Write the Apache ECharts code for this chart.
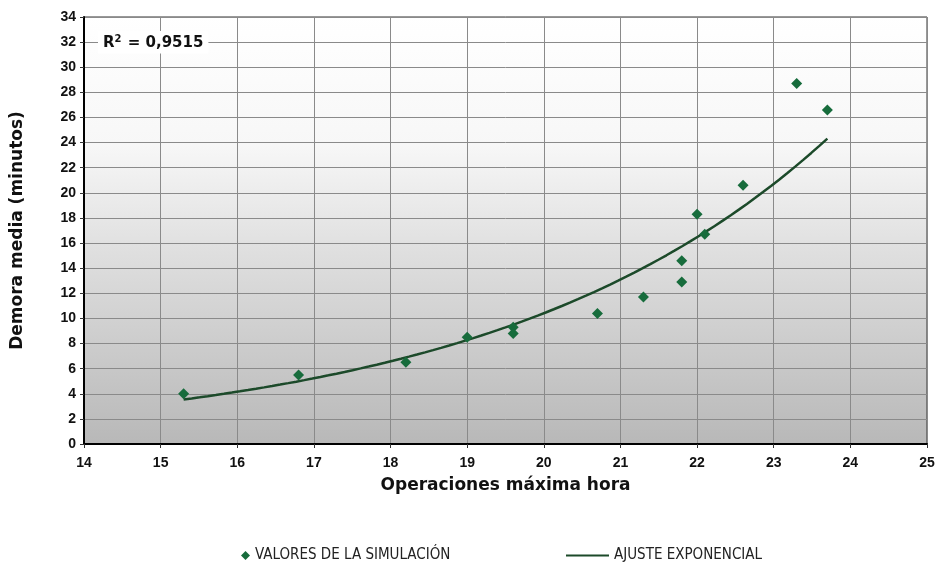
<!DOCTYPE html>
<html>
<head>
<meta charset="utf-8">
<script src="https://cdn.jsdelivr.net/npm/echarts@6/dist/echarts.min.js"></script>
<style>
  html, body { margin: 0; padding: 0; background: #fff; }
  #chart { width: 942px; height: 567px; }
</style>
</head>
<body>
<div id="chart"></div>
<script>
// Simulated mean delay vs. peak-hour operations
const operaciones = [15.3, 16.8, 18.2, 19.0, 19.6, 19.6, 20.7, 21.3, 21.8, 21.8, 22.0, 22.1, 22.6, 23.3, 23.7];
const demora      = [4.0, 5.5, 6.5, 8.5, 9.3, 8.8, 10.4, 11.7, 12.9, 14.6, 18.3, 16.7, 20.6, 28.7, 26.6];
const seriesNames = ['VALORES DE LA SIMULACIÓN', 'AJUSTE EXPONENCIAL'];
const r2Label = '0,9515';

// Exponential trendline y = a·e^(b·x), least squares on ln(y)
function expFit(xs, ys) {
  const n = xs.length;
  const ly = ys.map(v => Math.log(v));
  const mx = xs.reduce((s, v) => s + v, 0) / n;
  const my = ly.reduce((s, v) => s + v, 0) / n;
  let sxy = 0, sxx = 0;
  for (let i = 0; i < n; i++) { sxy += (xs[i] - mx) * (ly[i] - my); sxx += (xs[i] - mx) ** 2; }
  const b = sxy / sxx;
  const lnA = my - b * mx;
  return x => Math.exp(lnA + b * x);
}
const fit = expFit(operaciones, demora);
const xMin = Math.min(...operaciones), xMax = Math.max(...operaciones);
const trend = [];
for (let i = 0; i <= 80; i++) {
  const x = xMin + (xMax - xMin) * i / 80;
  trend.push([x, fit(x)]);
}

const chart = echarts.init(document.getElementById('chart'), null, { renderer: 'canvas' });
const tickFont = { color: '#111', fontFamily: 'Liberation Sans, Arial, sans-serif', fontWeight: 'bold', fontSize: 14 };
const nameFont = { color: '#111', fontFamily: 'DejaVu Sans, sans-serif', fontWeight: 'bold', fontSize: 17 };
const legendFont = { fontFamily: 'DejaVu Sans Condensed, DejaVu Sans, sans-serif', fontSize: 15, color: '#222' };
const gridLine = { show: true, lineStyle: { color: '#8a8a8a', width: 1 } };

chart.setOption({
  animation: false,
  backgroundColor: '#ffffff',
  title: {
    text: '{a|R}{s|2}{a| = ' + r2Label + '}',
    left: 98, top: 31,
    backgroundColor: '#ffffff',
    padding: [3, 5],
    textStyle: {
      rich: {
        a: { fontFamily: 'DejaVu Sans, sans-serif', fontWeight: 'bold', fontSize: 15, color: '#111' },
        s: { fontFamily: 'DejaVu Sans, sans-serif', fontWeight: 'bold', fontSize: 10, color: '#111', verticalAlign: 'top', padding: [0, 1, 8, 0] }
      }
    }
  },
  legend: [
    {
      data: [{ name: seriesNames[0], icon: 'diamond' }],
      left: 236, top: 543,
      itemWidth: 9, itemHeight: 9, itemGap: 12,
      textStyle: legendFont
    },
    {
      data: [{ name: seriesNames[1], icon: 'rect' }],
      left: 561, top: 543,
      itemWidth: 43, itemHeight: 2, itemGap: 4,
      textStyle: legendFont
    }
  ],
  grid: {
    left: 84, right: 15, top: 17, bottom: 123,
    show: true,
    borderColor: '#333',
    borderWidth: 1,
    backgroundColor: new echarts.graphic.LinearGradient(0, 0, 0, 1, [
      { offset: 0, color: '#ffffff' },
      { offset: 0.3, color: '#f7f7f7' },
      { offset: 0.55, color: '#dfdfdf' },
      { offset: 1, color: '#b8b8b8' }
    ])
  },
  xAxis: {
    type: 'value',
    min: 14, max: 25, interval: 1,
    name: 'Operaciones máxima hora',
    nameLocation: 'middle',
    nameGap: 33,
    nameTextStyle: nameFont,
    axisLine: { show: true, lineStyle: { color: '#000', width: 2 } },
    axisTick: { show: true, inside: false, length: 4, lineStyle: { color: '#333' } },
    axisLabel: Object.assign({ margin: 12 }, tickFont),
    splitLine: gridLine
  },
  yAxis: {
    type: 'value',
    min: 0, max: 34, interval: 2,
    name: 'Demora media (minutos)',
    nameLocation: 'middle',
    nameGap: 58,
    nameTextStyle: nameFont,
    axisLine: { show: true, lineStyle: { color: '#000', width: 2 } },
    axisTick: { show: true, inside: false, length: 4, lineStyle: { color: '#333' } },
    axisLabel: Object.assign({ margin: 8 }, tickFont),
    splitLine: gridLine
  },
  series: [
    {
      name: seriesNames[0],
      type: 'scatter',
      symbol: 'diamond',
      symbolSize: 11,
      itemStyle: { color: '#176c3c', opacity: 1 },
      data: operaciones.map((x, i) => [x, demora[i]]),
      z: 3
    },
    {
      name: seriesNames[1],
      type: 'line',
      showSymbol: false,
      symbol: 'none',
      smooth: false,
      lineStyle: { color: '#1c4a2a', width: 2.5 },
      itemStyle: { color: '#1c4a2a' },
      data: trend,
      z: 2
    }
  ]
});
</script>
</body>
</html>
